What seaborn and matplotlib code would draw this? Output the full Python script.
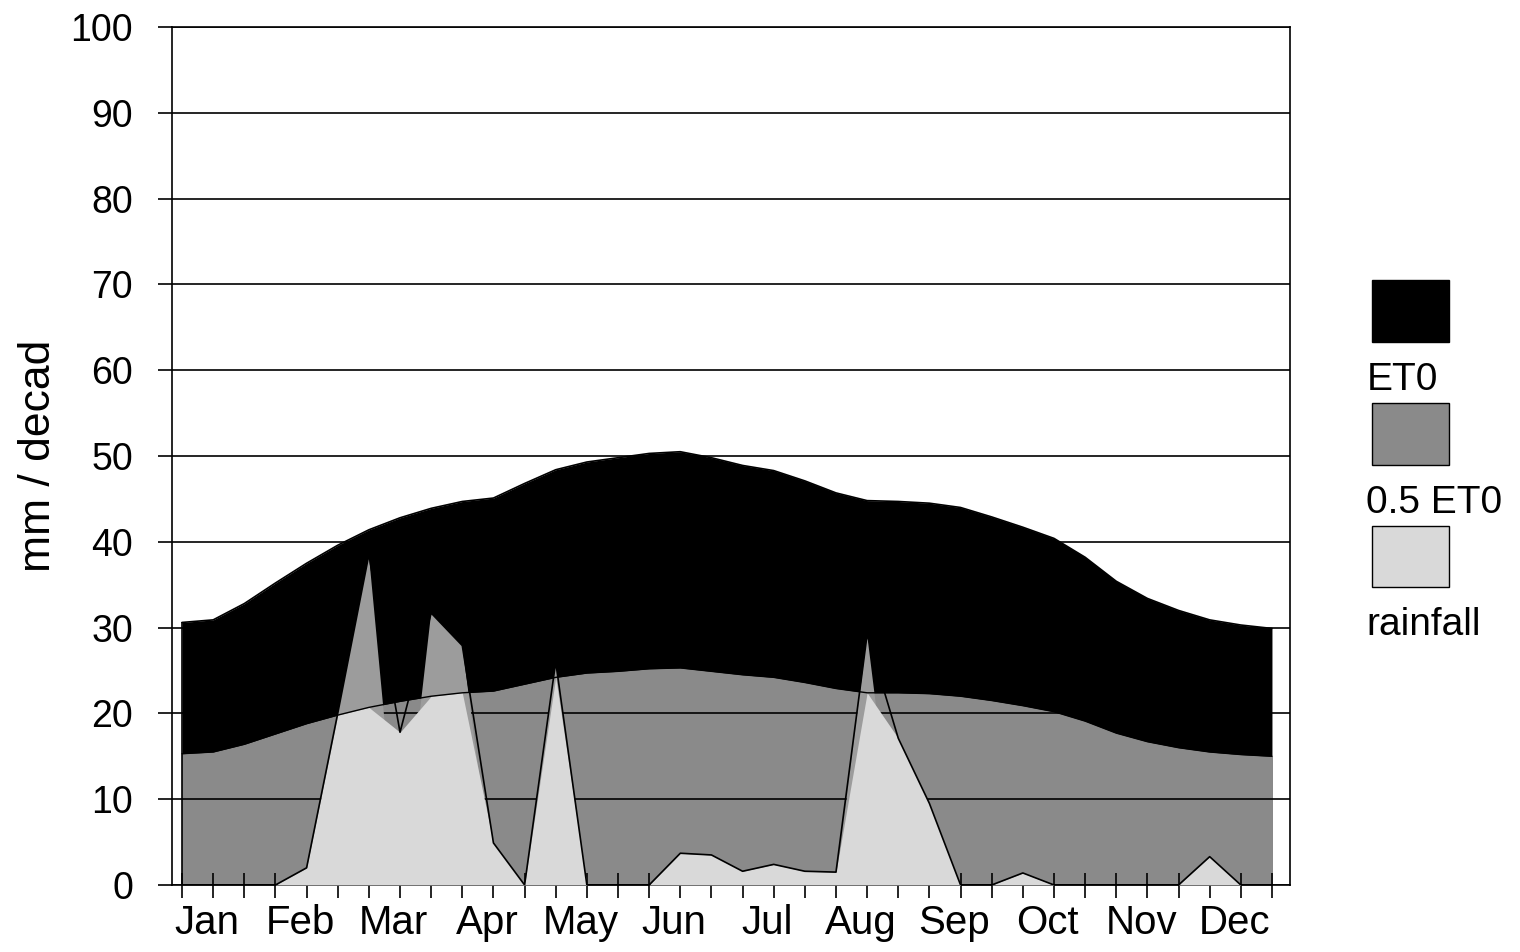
import numpy as np
import pandas as pd
import matplotlib
matplotlib.use("Agg")
import matplotlib.pyplot as plt
import seaborn as sns
from matplotlib.patches import Rectangle

# --- data (36 decads, 3 per month) ---
MONTHS = ['Jan', 'Feb', 'Mar', 'Apr', 'May', 'Jun',
          'Jul', 'Aug', 'Sep', 'Oct', 'Nov', 'Dec']
DECAD = list(range(36))

ET0 = [30.6, 30.9, 32.8, 35.2, 37.5, 39.6, 41.4, 42.8, 43.9, 44.7, 45.1, 46.8,
       48.4, 49.3, 49.8, 50.3, 50.5, 49.8, 48.9, 48.3, 47.1, 45.7, 44.8, 44.7,
       44.5, 44.0, 42.9, 41.7, 40.4, 38.2, 35.4, 33.4, 32.0, 30.9, 30.3, 29.9]

HALF_ET0 = [15.3, 15.5, 16.4, 17.6, 18.8, 19.8, 20.7, 21.4, 22.0, 22.4, 22.6, 23.4,
            24.2, 24.7, 24.9, 25.2, 25.3, 24.9, 24.5, 24.2, 23.6, 22.9, 22.4, 22.4,
            22.3, 22.0, 21.5, 20.9, 20.2, 19.1, 17.7, 16.7, 16.0, 15.5, 15.2, 15.0]

RAINFALL = [0.0, 0.0, 0.0, 0.0, 2.0, 20.0, 38.5, 17.8, 31.7, 27.9, 4.9, 0.0,
            26.0, 0.0, 0.0, 0.0, 3.7, 3.5, 1.6, 2.4, 1.6, 1.5, 29.2, 17.1,
            9.5, 0.0, 0.0, 1.4, 0.0, 0.0, 0.0, 0.0, 0.0, 3.3, 0.0, 0.0]

df = pd.DataFrame({'decad': DECAD, 'et0': ET0, 'half': HALF_ET0, 'rain': RAINFALL})

sns.set_theme(style="white")
plt.rcParams['font.family'] = ['Liberation Sans', 'DejaVu Sans']
plt.rcParams['text.color'] = 'black'
plt.rcParams['axes.labelcolor'] = 'black'
plt.rcParams['xtick.color'] = 'black'
plt.rcParams['ytick.color'] = 'black'

fig = plt.figure(figsize=(15.2, 9.52), dpi=100)
ax = fig.add_axes([0.1132, 0.0704, 0.7355, 0.9012])

x = df['decad'].values
ax.fill_between(x, 0, df['et0'], color='black', lw=0, zorder=1)
ax.fill_between(x, 0, df['half'], color='#8a8a8a', lw=0, zorder=2)
low = np.minimum(df['rain'].values, df['half'].values)
ax.fill_between(x, 0, df['rain'], where=df['rain'] > df['half'], interpolate=True,
                color='#9c9c9c', lw=0, zorder=3)
ax.fill_between(x, 0, low, color='#d9d9d9', lw=0, zorder=3)

sns.lineplot(data=df, x='decad', y='et0', color='black', lw=1.2, ax=ax, zorder=4)
sns.lineplot(data=df, x='decad', y='half', color='black', lw=1.0, ax=ax, zorder=4)
sns.lineplot(data=df, x='decad', y='rain', color='black', lw=1.2, ax=ax, zorder=4)
ax.vlines(x[0], 0, ET0[0], color='black', lw=1.2, zorder=4)

ax.set_xlim(-0.32, 35.58)
ax.set_ylim(0, 100)
ax.set_yticks(range(0, 101, 10))
ax.grid(axis='y', color='black', lw=1.2, zorder=5)
ax.set_axisbelow(False)

# decad ticks without labels, month names as unticked minor labels
ax.set_xticks(DECAD)
ax.set_xticklabels([])
ax.set_xticks([3 * i + 0.8 for i in range(12)], minor=True)
ax.set_xticklabels(MONTHS, minor=True)
ax.tick_params(axis='x', which='major', direction='inout', length=18, width=1.2,
               color='black', bottom=True)
ax.tick_params(axis='x', which='minor', length=0, pad=14, labelsize=29)
ax.tick_params(axis='y', direction='out', length=10, width=1.2, color='black',
               left=True, pad=18, labelsize=27)

for s in ax.spines.values():
    s.set_color('black')
    s.set_linewidth(1.2)

ax.set_xlabel('')
ax.set_ylabel('mm / decad', fontsize=32, labelpad=8)

# legend: swatch above each label
swatches = [('black', 'ET0'), ('#8a8a8a', '0.5 ET0'), ('#d9d9d9', 'rainfall')]
tops = [0.706, 0.577, 0.448]
for (col, lab), top in zip(swatches, tops):
    fig.patches.append(Rectangle((0.9025, top - 0.065), 0.051, 0.065,
                                 transform=fig.transFigure, facecolor=col,
                                 edgecolor='black', lw=1.0))
    fig.text(0.899, top - 0.105, lab, fontsize=28, va='center', ha='left')

fig.savefig('out.png', dpi=100)
